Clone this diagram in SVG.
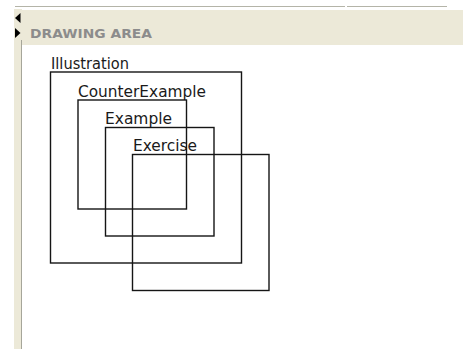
<svg xmlns="http://www.w3.org/2000/svg" width="463" height="349" viewBox="0 0 463 349">
  <style>
    .box { fill: none; stroke: #151515; stroke-width: 1.4; }
    .label { font-family: "DejaVu Sans", "Liberation Sans", sans-serif; font-size: 15px; fill: #1a1a1a; }
    .title { font-family: "DejaVu Sans", "Liberation Sans", sans-serif; font-size: 12.5px; font-weight: bold; fill: #8c8c8c; }
  </style>
  <rect x="0" y="0" width="463" height="349" fill="#ffffff"/>

  <!-- panel chrome -->
  <g id="chrome">
    <line x1="15" y1="6.5" x2="345" y2="6.5" stroke="#b4b4a8" stroke-width="1"/>
    <line x1="347" y1="6.5" x2="447" y2="6.5" stroke="#b4b4a8" stroke-width="1"/>
    <rect x="14" y="9" width="8" height="340" fill="#ece9d8"/>
    <line x1="21.5" y1="40" x2="21.5" y2="349" stroke="#a6a69a" stroke-width="1"/>
    <rect x="22" y="10" width="441" height="35" fill="#ece9d8"/>
    <path d="M20.5 13 L15 18 L20.5 23 Z" fill="#000"/>
    <path d="M15 28 L20.5 33 L15 38 Z" fill="#000"/>
    <text class="title" x="30" y="37.5" textLength="122" lengthAdjust="spacingAndGlyphs">DRAWING AREA</text>
  </g>

  <g id="illustration">
    <rect class="box" x="50.5" y="72" width="191" height="191"/>
    <text class="label" x="51" y="69" textLength="78" lengthAdjust="spacingAndGlyphs">Illustration</text>
  </g>

  <g id="counterexample">
    <rect class="box" x="78" y="100" width="108.5" height="109"/>
    <text class="label" x="78" y="97" textLength="128" lengthAdjust="spacingAndGlyphs">CounterExample</text>
  </g>

  <g id="example">
    <rect class="box" x="105.5" y="127.5" width="108.5" height="108.5"/>
    <text class="label" x="105" y="124" textLength="67" lengthAdjust="spacingAndGlyphs">Example</text>
  </g>

  <g id="exercise">
    <rect class="box" x="132.5" y="154.5" width="136.5" height="136"/>
    <text class="label" x="133" y="151" textLength="64" lengthAdjust="spacingAndGlyphs">Exercise</text>
  </g>

  <g id="connectors"></g>
</svg>
